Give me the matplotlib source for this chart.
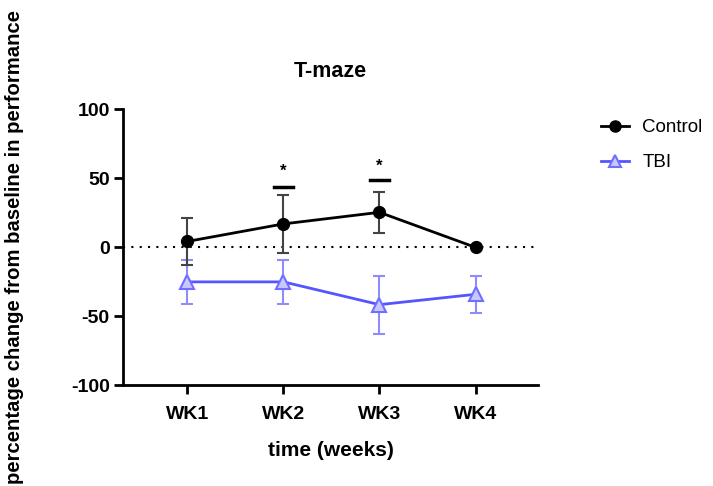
import matplotlib
matplotlib.use('Agg')
import matplotlib.pyplot as plt
from matplotlib.lines import Line2D

plt.rcParams['font.family'] = ['Liberation Sans', 'DejaVu Sans']
plt.rcParams['axes.unicode_minus'] = False

weeks = ['WK1', 'WK2', 'WK3', 'WK4']
control_mean = [4.3, 17.0, 25.4, 0.0]
control_sem = [17.2, 20.8, 14.7, 0.0]
tbi_mean = [-25.0, -25.0, -41.5, -34.0]
tbi_sem = [16.0, 16.0, 21.0, 13.5]
# significance marks: (week index, bar height, star height)
sig_weeks = [1, 2]
sig_bar_y = [44.0, 48.5]
sig_star_y = [55.0, 58.5]

x = list(range(1, len(weeks) + 1))
tbi_line = '#5555ff'

fig = plt.figure(figsize=(7.13, 4.86), dpi=100)
ax = fig.add_axes([0.1725, 0.207, 0.582, 0.568])

ax.axhline(0, color='black', linestyle=(0, (1, 3)), linewidth=1.5, zorder=1)

ax.errorbar(x, control_mean, yerr=control_sem, color='black', marker='o',
            markersize=8.5, linewidth=2, ecolor='#444444', elinewidth=1.5,
            capsize=4, capthick=1.5, zorder=3)
ax.errorbar(x, tbi_mean, yerr=tbi_sem, color=tbi_line, marker='^',
            markersize=10, markerfacecolor='#c8c8ff', markeredgecolor='#6f6fff',
            markeredgewidth=1.5, linewidth=2, ecolor='#8c8cff', elinewidth=1.5,
            capsize=4, capthick=1.5, zorder=2)

for i, by, sy in zip(sig_weeks, sig_bar_y, sig_star_y):
    ax.plot([x[i] - 0.1, x[i] + 0.1], [by, by], color='black', linewidth=2.5)
    ax.text(x[i], sy, '*', ha='center', va='center', fontsize=12, fontweight='bold')

ax.set_xlim(0.33, 4.65)
ax.set_ylim(-100, 100)
ax.set_yticks([-100, -50, 0, 50, 100])
ax.set_xticks(x)
ax.set_xticklabels(weeks)

for s in ['top', 'right']:
    ax.spines[s].set_visible(False)
for s in ['left', 'bottom']:
    ax.spines[s].set_linewidth(2)
ax.tick_params(width=2, length=6.5, labelsize=14, pad=3)
ax.tick_params(axis='x', pad=8)
for lbl in ax.get_xticklabels() + ax.get_yticklabels():
    lbl.set_fontweight('bold')

ax.set_title('T-maze', fontsize=15.5, fontweight='bold', pad=23)
ax.set_xlabel('time (weeks)', fontsize=15, fontweight='bold', labelpad=13)
ax.set_ylabel('percentage change from baseline in performance', fontsize=14.6,
              fontweight='bold', labelpad=34)

handles = [
    Line2D([], [], color='black', marker='o', markersize=8, linewidth=2),
    Line2D([], [], color=tbi_line, marker='^', markersize=9, linewidth=2,
           markerfacecolor='#c8c8ff', markeredgecolor='#6f6fff', markeredgewidth=1.5),
]
fig.legend(handles, ['Control', 'TBI'], loc='upper left',
           bbox_to_anchor=(0.83, 0.774), frameon=False, fontsize=13.5,
           handlelength=1.5, handletextpad=0.7, labelspacing=0.95, borderpad=0)

fig.savefig('out.png', dpi=100)
